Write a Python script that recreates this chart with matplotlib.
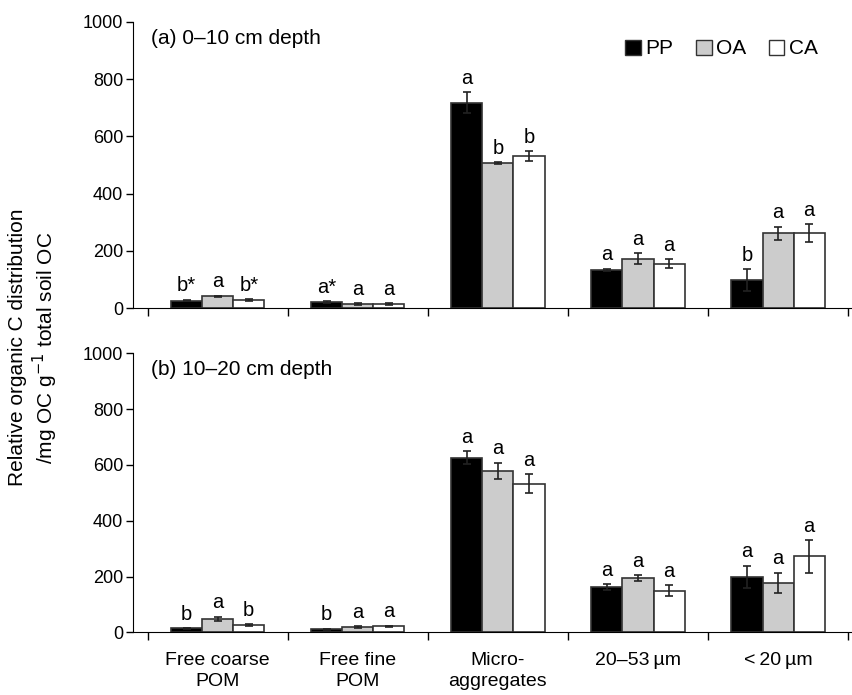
import matplotlib
matplotlib.use('Agg')
import matplotlib.pyplot as plt
import numpy as np
from matplotlib.patches import Patch

plt.rcParams['font.family'] = ['Liberation Sans', 'DejaVu Sans']

categories = ['Free coarse\nPOM', 'Free fine\nPOM', 'Micro-\naggregates',
              '20\u201353\u2009\u00b5m', '<\u200920\u2009\u00b5m']
series = ['PP', 'OA', 'CA']
colors = ['black', '#cccccc', 'white']

# (a) 0-10 cm
a_pp = [27, 22, 717, 134, 99]
a_oa = [42, 15, 506, 173, 262]
a_ca = [29, 15, 531, 156, 262]
a_pp_err = [3, 4, 36, 4, 38]
a_oa_err = [2, 2, 3, 19, 23]
a_ca_err = [4, 3, 18, 16, 31]
a_pp_lab = ['b*', 'a*', 'a', 'a', 'b']
a_oa_lab = ['a', 'a', 'b', 'a', 'a']
a_ca_lab = ['b*', 'a', 'b', 'a', 'a']

# (b) 10-20 cm
b_pp = [14, 11, 626, 162, 199]
b_oa = [48, 20, 578, 195, 177]
b_ca = [26, 22, 533, 149, 272]
b_pp_err = [2, 2, 24, 12, 40]
b_oa_err = [8, 3, 30, 11, 37]
b_ca_err = [2, 2, 33, 19, 59]
b_pp_lab = ['b', 'b', 'a', 'a', 'a']
b_oa_lab = ['a', 'a', 'a', 'a', 'a']
b_ca_lab = ['b', 'a', 'a', 'a', 'a']

fig = plt.figure(figsize=(8.53, 6.95), dpi=100)
ax1 = fig.add_axes([0.156, 0.5564, 0.844, 0.4124])
ax2 = fig.add_axes([0.156, 0.0902, 0.844, 0.4015])

x = np.arange(len(categories))
w = 0.222

def draw(ax, vals, errs, labs, title):
    for k in range(3):
        pos = x + (k - 1) * w
        ax.bar(pos, vals[k], w, color=colors[k], edgecolor='#333333', linewidth=1.2,
               yerr=errs[k], error_kw=dict(ecolor='#222222', elinewidth=1.2, capsize=3, capthick=1.2))
        for i in range(len(x)):
            ax.text(pos[i], vals[k][i] + errs[k][i] + 15, labs[k][i], ha='center', va='bottom',
                    fontsize=14.5)
    ax.set_ylim(0, 1000)
    ax.set_xlim(-0.604, 4.535)
    ax.set_yticks(range(0, 1001, 200))
    ax.set_xticks(np.arange(-0.5, 4.6, 1))
    ax.tick_params(axis='x', direction='out', length=6, width=1, labelbottom=False)
    ax.tick_params(axis='y', direction='out', length=5, width=1, pad=2, labelsize=13)
    for s in ['top', 'right']:
        ax.spines[s].set_visible(False)
    ax.text(0.025, 0.975, title, transform=ax.transAxes, fontsize=15, va='top', ha='left')

draw(ax1, [a_pp, a_oa, a_ca], [a_pp_err, a_oa_err, a_ca_err],
     [a_pp_lab, a_oa_lab, a_ca_lab], '(a) 0\u201310 cm depth')
draw(ax2, [b_pp, b_oa, b_ca], [b_pp_err, b_oa_err, b_ca_err],
     [b_pp_lab, b_oa_lab, b_ca_lab], '(b) 10\u201320 cm depth')

for i, c in enumerate(categories):
    ax2.text(x[i], -72, c, ha='center', va='top', fontsize=14, linespacing=1.3)

handles = [Patch(facecolor=colors[k], edgecolor='#333333', label=series[k]) for k in range(3)]
ax1.legend(handles=handles, loc='center right', bbox_to_anchor=(0.965, 0.905), ncol=3,
           frameon=False, fontsize=15, handlelength=0.75, handleheight=0.75,
           handletextpad=0.2, columnspacing=1.1, borderpad=0)

fig.text(0.04, 0.5, 'Relative organic C distribution\n/mg OC g$^{-1}$ total soil OC',
         rotation=90, ha='center', va='center', fontsize=15)

fig.savefig('out.png', dpi=100)
